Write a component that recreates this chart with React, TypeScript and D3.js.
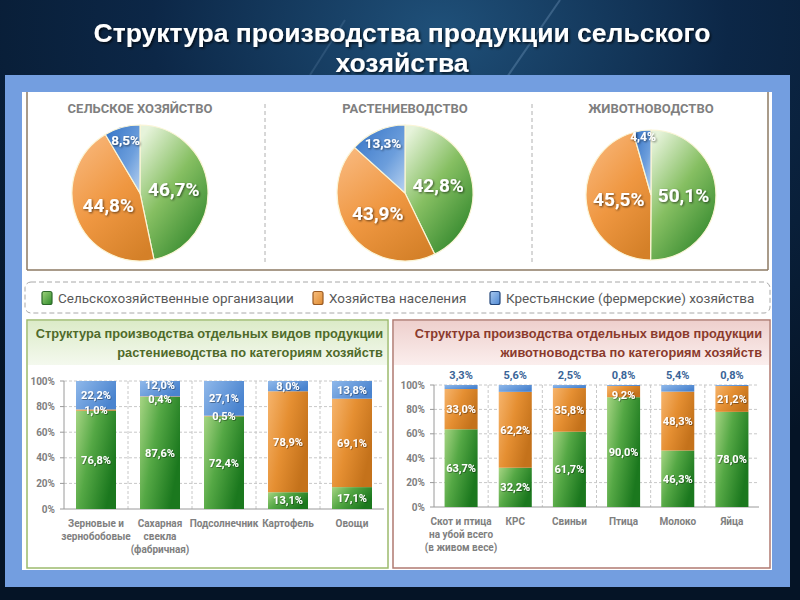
import React from "react";
import * as d3 from "d3";

const mainTitle = ["Структура производства продукции сельского", "хозяйства"];
const seriesNames = ["Сельскохозяйственные организации", "Хозяйства населения", "Крестьянские (фермерские) хозяйства"];
const pieTitles = ["СЕЛЬСКОЕ ХОЗЯЙСТВО", "РАСТЕНИЕВОДСТВО", "ЖИВОТНОВОДСТВО"];
const pieOrg = [46.7, 42.8, 50.1];
const pieHouse = [44.8, 43.9, 45.5];
const pieFarm = [8.5, 13.3, 4.4];

const cropTitle = ["Структура производства отдельных видов продукции", "растениеводства по категориям хозяйств"];
const cropCategories = [["Зерновые и", "зернобобовые"], ["Сахарная", "свекла", "(фабричная)"], ["Подсолнечник"], ["Картофель"], ["Овощи"]];
const cropOrg = [76.8, 87.6, 72.4, 13.1, 17.1];
const cropHouse = [1.0, 0.4, 0.5, 78.9, 69.1];
const cropFarm = [22.2, 12.0, 27.1, 8.0, 13.8];

const liveTitle = ["Структура производства отдельных видов продукции", "животноводства по категориям хозяйств"];
const liveCategories = [["Скот и птица", "на убой всего", "(в живом весе)"], ["КРС"], ["Свиньи"], ["Птица"], ["Молоко"], ["Яйца"]];
const liveOrg = [63.7, 32.2, 61.7, 90.0, 46.3, 78.0];
const liveHouse = [33.0, 62.2, 35.8, 9.2, 48.3, 21.2];
const liveFarm = [3.3, 5.6, 2.5, 0.8, 5.4, 0.8];

const yTicks = [0, 20, 40, 60, 80, 100];

const fmt = (v: number) => v.toFixed(1).replace(".", ",") + "%";
const CAL = "Roboto, 'Noto Sans', sans-serif";
const ARIAL = "'Liberation Sans', Arial, sans-serif";

function Pie({ cx, cy, r, title, values }: { cx: number; cy: number; r: number; title: string; values: number[] }) {
  const pie = d3.pie<number>().sort(null).value((d) => d);
  const arcs = pie(values);
  const arc = d3.arc<d3.PieArcDatum<number>>().innerRadius(0).outerRadius(r);
  const fills = ["url(#pieGreen)", "url(#pieOrange)", "url(#pieBlue)"];
  return (
    <g>
      <text x={cx} y={113} textAnchor="middle" fontFamily={CAL} fontWeight="bold" fontSize={13} fill="#7f7f7f">{title}</text>
      <g transform={`translate(${cx},${cy})`}>
        {arcs.map((a, i) => (
          <path key={i} d={arc(a) || ""} fill={fills[i]} stroke="#fbf5d6" strokeWidth={1.2} />
        ))}
        {arcs.map((a, i) => {
          const small = a.data < 15;
          const lr = r * (small ? (a.data < 5 ? 0.9 : 0.8) : 0.5);
          const la = d3.arc<d3.PieArcDatum<number>>().innerRadius(lr).outerRadius(lr);
          const [lx, ly] = la.centroid(a);
          return (
            <text key={"l" + i} x={lx} y={ly} dy="0.35em" textAnchor="middle" fontFamily={CAL} fontWeight="bold"
              fontSize={small ? (a.data < 5 ? 12 : 13.5) : 19} fill="#fff" filter="url(#shadow)">{fmt(a.data)}</text>
          );
        })}
      </g>
    </g>
  );
}

function BarChart({ categories, org, house, farm, x0, x1, yTop, yBot, farmOnTop }:
  { categories: string[][]; org: number[]; house: number[]; farm: number[]; x0: number; x1: number; yTop: number; yBot: number; farmOnTop: boolean }) {
  const idx = categories.map((_, i) => i);
  const n = categories.length;
  const x = d3.scaleBand<number>().domain(idx).range([x0, x1]).paddingInner(farmOnTop ? 0.39 : 0.375).paddingOuter(farmOnTop ? 0.195 : 0.1875);
  const y = d3.scaleLinear().domain([0, 100]).range([yBot, yTop]);
  const step = x.step();
  const boundaries = d3.range(1, n).map((k) => x0 + k * step);
  const segs = [
    { vals: org, fill: "url(#barGreen)" },
    { vals: house, fill: "url(#barOrange)" },
    { vals: farm, fill: "url(#barBlue)" },
  ];
  return (
    <g>
      {yTicks.map((t) => (
        <g key={t}>
          {t > 0 && <line x1={x0} x2={x1} y1={y(t)} y2={y(t)} stroke="#c8c8c8" strokeDasharray="3,2" />}
          <line x1={x0 - 4} x2={x0} y1={y(t)} y2={y(t)} stroke="#9a9a9a" />
          <text x={x0 - 9} y={y(t)} dy="0.35em" textAnchor="end" fontFamily={CAL} fontWeight="bold" fontSize={10} fill="#7f7f7f">{t + "%"}</text>
        </g>
      ))}
      {boundaries.map((b, i) => (
        <line key={i} x1={b} x2={b} y1={yTop} y2={yBot} stroke="#c8c8c8" strokeDasharray="3,2" />
      ))}
      <line x1={x0} x2={x0} y1={yTop} y2={yBot} stroke="#9a9a9a" />
      <line x1={x0} x2={x1} y1={yBot} y2={yBot} stroke="#9a9a9a" />
      {idx.map((i) => {
        let acc = 0;
        const bx = x(i) as number;
        const bw = x.bandwidth();
        return (
          <g key={i}>
            {segs.map((s, k) => {
              const v = s.vals[i];
              const y0 = y(acc);
              const y1 = y(acc + v);
              acc += v;
              return <rect key={k} x={bx} y={y1} width={bw} height={Math.max(0, y0 - y1)} fill={s.fill} />;
            })}
          </g>
        );
      })}
      {idx.map((i) => {
        const bx = (x(i) as number) + x.bandwidth() / 2;
        // label positions: centre of each segment, pushed apart when too close
        const ys: number[] = [];
        let acc = 0;
        segs.forEach((s) => {
          const v = s.vals[i];
          ys.push(y(acc + v / 2));
          acc += v;
        });
        if (ys[1] - ys[2] < 13) {
          const mid = (ys[1] + ys[2]) / 2;
          ys[1] = mid + 7;
          ys[2] = mid - 7;
        }
        return (
          <g key={"lab" + i}>
            {segs.map((s, k) => {
              const v = s.vals[i];
              if (k === 2 && farmOnTop) {
                return <text key={k} x={bx} y={yTop - 10} dy="0.35em" textAnchor="middle" fontFamily={CAL} fontWeight="bold" fontSize={11} fill="#3a6497">{fmt(v)}</text>;
              }
              return <text key={k} x={bx} y={ys[k]} dy="0.35em" textAnchor="middle" fontFamily={CAL} fontWeight="bold" fontSize={11} fill="#fff" filter="url(#shadowS)">{fmt(v)}</text>;
            })}
            {categories[i].map((line, j) => (
              <text key={"c" + j} x={bx} y={yBot + 14 + j * 13} dy="0.35em" textAnchor="middle" fontFamily={CAL} fontWeight="bold" fontSize={10} fill="#808080">{line}</text>
            ))}
          </g>
        );
      })}
    </g>
  );
}

export default function App() {
  const pieCenters = [[140, 193, 68], [405, 193, 68], [651, 195, 65]];
  const legendX = [42, 313, 490];
  const legendFills = ["url(#legGreen)", "url(#legOrange)", "url(#legBlue)"];
  const legendStrokes = ["#2d6a2a", "#9a5a22", "#23467a"];
  return (
    <svg width={800} height={600} viewBox="0 0 800 600" style={{ position: "absolute", left: 0, top: 0, display: "block" }}>
      <defs>
        <radialGradient id="bg" cx="0.55" cy="0.05" r="0.8">
          <stop offset="0" stopColor="#1f5079" />
          <stop offset="0.45" stopColor="#0c2747" />
          <stop offset="1" stopColor="#051426" />
        </radialGradient>
        <linearGradient id="pieGreen" x1="0.15" y1="0" x2="0.85" y2="1">
          <stop offset="0" stopColor="#e6f3da" />
          <stop offset="0.45" stopColor="#86bf62" />
          <stop offset="1" stopColor="#2a8227" />
        </linearGradient>
        <linearGradient id="pieOrange" x1="0.2" y1="0" x2="0.8" y2="1">
          <stop offset="0" stopColor="#f8b679" />
          <stop offset="0.5" stopColor="#ef9741" />
          <stop offset="1" stopColor="#d48028" />
        </linearGradient>
        <linearGradient id="pieBlue" x1="0" y1="0" x2="1" y2="1">
          <stop offset="0" stopColor="#3473c6" />
          <stop offset="0.6" stopColor="#6c9edc" />
          <stop offset="1" stopColor="#b9d3f1" />
        </linearGradient>
        <linearGradient id="barGreen" x1="0" y1="0" x2="1" y2="0.5">
          <stop offset="0" stopColor="#a6d583" />
          <stop offset="0.45" stopColor="#55a845" />
          <stop offset="1" stopColor="#1b781e" />
        </linearGradient>
        <linearGradient id="barOrange" x1="0" y1="0" x2="1" y2="0.5">
          <stop offset="0" stopColor="#f6b46c" />
          <stop offset="0.5" stopColor="#e58f32" />
          <stop offset="1" stopColor="#c4721b" />
        </linearGradient>
        <linearGradient id="barBlue" x1="0" y1="0" x2="1" y2="0.5">
          <stop offset="0" stopColor="#8fb8ea" />
          <stop offset="1" stopColor="#4a84cf" />
        </linearGradient>
        <linearGradient id="legGreen" x1="0" y1="0" x2="1" y2="1">
          <stop offset="0" stopColor="#9fd47c" />
          <stop offset="1" stopColor="#2e8a2a" />
        </linearGradient>
        <linearGradient id="legOrange" x1="0" y1="0" x2="1" y2="1">
          <stop offset="0" stopColor="#f8bf80" />
          <stop offset="1" stopColor="#de8a30" />
        </linearGradient>
        <linearGradient id="legBlue" x1="0" y1="0" x2="1" y2="1">
          <stop offset="0" stopColor="#a9c9f0" />
          <stop offset="1" stopColor="#4f88d2" />
        </linearGradient>
        <linearGradient id="greenBand" x1="0" y1="0" x2="0" y2="1">
          <stop offset="0" stopColor="#dcebc8" />
          <stop offset="1" stopColor="#f4f9ee" />
        </linearGradient>
        <linearGradient id="pinkBand" x1="0" y1="0" x2="0" y2="1">
          <stop offset="0" stopColor="#eed0cd" />
          <stop offset="1" stopColor="#fbeeed" />
        </linearGradient>
        <filter id="shadow" x="-20%" y="-30%" width="140%" height="160%">
          <feDropShadow dx="1" dy="1" stdDeviation="0.9" floodColor="#000" floodOpacity="0.6" />
        </filter>
        <filter id="shadowS" x="-20%" y="-30%" width="140%" height="160%">
          <feDropShadow dx="0.7" dy="0.7" stdDeviation="0.6" floodColor="#000" floodOpacity="0.5" />
        </filter>
        <filter id="titleShadow" x="-5%" y="-30%" width="110%" height="160%">
          <feDropShadow dx="1.5" dy="1.5" stdDeviation="1" floodColor="#000" floodOpacity="0.7" />
        </filter>
      </defs>

      <rect x={0} y={0} width={800} height={600} fill="url(#bg)" />
      <line x1={560} y1={0} x2={505} y2={80} stroke="#9fc4e6" strokeOpacity={0.25} strokeWidth={2} />
      <line x1={345} y1={20} x2={310} y2={75} stroke="#9fc4e6" strokeOpacity={0.15} strokeWidth={2} />

      {mainTitle.map((t, i) => (
        <text key={i} x={402} y={42 + i * 30} textAnchor="middle" fontFamily={ARIAL} fontWeight="bold" fontSize={26.5} fill="#fff" filter="url(#titleShadow)">{t}</text>
      ))}

      <rect x={5} y={75} width={785} height={512} fill="#739ee0" />
      <rect x={22} y={92} width={750} height={478} fill="#fff" />

      {/* pie frame */}
      <line x1={27} y1={92} x2={27} y2={270} stroke="#8c7a63" strokeWidth={1.5} />
      <line x1={768} y1={92} x2={768} y2={270} stroke="#8c7a63" strokeWidth={1.5} />
      <line x1={27} y1={270} x2={768} y2={270} stroke="#8c7a63" strokeWidth={1.5} />
      <line x1={265} y1={104} x2={265} y2={265} stroke="#b0b0b0" strokeDasharray="4,3" />
      <line x1={532} y1={104} x2={532} y2={265} stroke="#b0b0b0" strokeDasharray="4,3" />

      {pieCenters.map((c, i) => (
        <Pie key={i} cx={c[0]} cy={c[1]} r={c[2]} title={pieTitles[i]} values={[pieOrg[i], pieHouse[i], pieFarm[i]]} />
      ))}

      {/* legend */}
      <rect x={25} y={282} width={745} height={31} rx={6} fill="none" stroke="#a8a8a8" strokeDasharray="5,3" />
      {seriesNames.map((s, i) => (
        <g key={i}>
          <rect x={legendX[i]} y={291.5} width={10} height={13} rx={2} fill={legendFills[i]} stroke={legendStrokes[i]} strokeWidth={1.2} />
          <text x={legendX[i] + 16} y={298} dy="0.35em" fontFamily={CAL} fontSize={13.5} fill="#595959">{s}</text>
        </g>
      ))}

      {/* left chart box */}
      <rect x={27} y={320} width={361} height={248} fill="#fff" stroke="#9cba6c" strokeWidth={1.5} />
      <rect x={28} y={321} width={359} height={44} fill="url(#greenBand)" />
      {cropTitle.map((t, i) => (
        <text key={i} x={383} y={338 + i * 19} textAnchor="end" fontFamily={ARIAL} fontWeight="bold" fontSize={12.8} fill="#4f6a2a">{t}</text>
      ))}
      <BarChart categories={cropCategories} org={cropOrg} house={cropHouse} farm={cropFarm} x0={64} x1={384} yTop={381} yBot={509} farmOnTop={false} />

      {/* right chart box */}
      <rect x={393} y={320} width={377} height={248} fill="#fff" stroke="#b07a70" strokeWidth={1.5} />
      <rect x={394} y={321} width={375} height={44} fill="url(#pinkBand)" />
      {liveTitle.map((t, i) => (
        <text key={i} x={762} y={338 + i * 19} textAnchor="end" fontFamily={ARIAL} fontWeight="bold" fontSize={12.8} fill="#8a3a2c">{t}</text>
      ))}
      <BarChart categories={liveCategories} org={liveOrg} house={liveHouse} farm={liveFarm} x0={434} x1={759} yTop={385} yBot={507} farmOnTop={true} />
    </svg>
  );
}
